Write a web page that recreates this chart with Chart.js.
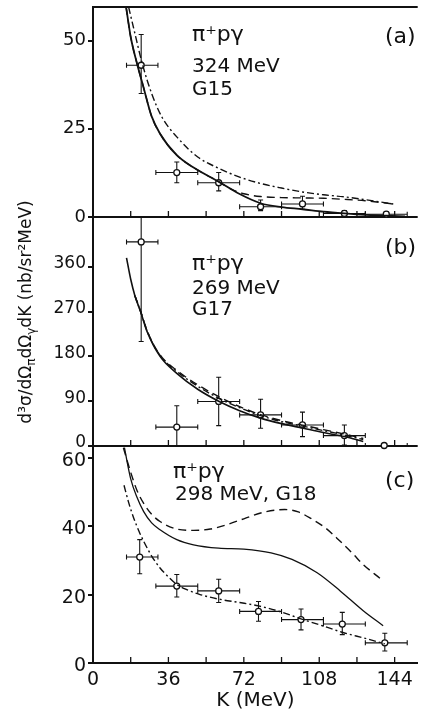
<!DOCTYPE html>
<html>
<head>
<meta charset="utf-8">
<script src="https://cdn.jsdelivr.net/npm/chart.js@4.4.1/dist/chart.umd.min.js"></script>
<style>
    html, body { margin: 0; padding: 0; background: #fff; }
    canvas { display: block; }
</style>
</head>
<body>
<canvas id="spectra" width="423" height="715"></canvas>
<script>
// photon energy axis (MeV)
const xTicks = [0, 18, 36, 54, 72, 90, 108, 126, 144];
const xLabels = [0, 36, 72, 108, 144];
const kBinLo = [16, 30, 50, 70, 90, 110, 130];
const kBinHi = [31, 50, 70, 90, 110, 130, 150];

// (a) 324 MeV, G15
const aTicks = [0, 25, 50];
const aK = [23, 40, 60, 80, 100, 120, 140];
const aY = [43, 12.6, 9.7, 2.9, 3.7, 1.0, 0.8];
const aLo = [35, 9.7, 7.4, 1.8, 2.2, 0.2, 0.1];
const aHi = [51.7, 15.6, 12.6, 4.8, 5.9, 1.8, 1.5];
const aSolidK = [15.8, 18, 21, 24, 28, 32, 40, 48, 60, 70, 80, 90, 100, 110, 120, 130, 140, 149];
const aSolid = [59.5, 51, 43.5, 37, 28.5, 23.6, 17.5, 14, 10, 6.5, 3.9, 2.8, 2.2, 1.5, 1.0, 0.6, 0.4, 0.2];
const aDashK = [15.8, 18, 21, 24, 28, 32, 40, 48, 60, 66, 72, 80, 90, 100, 110, 120, 130, 143];
const aDash = [59.5, 51, 43.5, 37, 28.5, 23.6, 17.5, 14, 10, 7.9, 6.6, 5.8, 5.5, 5.4, 5.3, 5.0, 4.6, 3.7];
const aDotK = [17, 20, 23.5, 28, 33, 40, 50, 60, 70, 80, 90, 100, 110, 120, 130, 140, 144];
const aDot = [59.5, 52, 43.5, 35, 28.2, 22.7, 17, 13.8, 11.3, 9.5, 8.2, 7.1, 6.3, 5.7, 4.9, 4.0, 3.6];

// (b) 269 MeV, G17
const bTicks = [0, 90, 180, 270, 360];
const bK = [23, 40, 60, 80, 100, 120, 139];
const bY = [410, 38, 89.5, 62.5, 42.3, 20.9, 1];
const bLo = [210, -5, 41, 35.7, 18.9, 2, -2];
const bHi = [610, 81, 138, 94, 68, 42.3, 4];
const bSolidK = [16, 18, 20, 22.7, 26, 32, 40, 50, 60, 70, 80, 90, 100, 110, 120, 129];
const bSolid = [378, 335, 302, 270, 228, 180, 146, 114, 90, 71, 56, 45, 36, 27, 19, 9];
const bDashK = [20, 22.7, 26, 32, 40, 50, 60, 70, 80, 90, 100, 110, 120, 129];
const bDash = [302, 271, 230, 183, 152, 123, 99, 79, 63, 51, 42, 33, 24, 15];
const bDotK = [20, 22.7, 26, 32, 40, 50, 60, 70, 80, 90, 100, 110, 120, 129];
const bDot = [302, 270, 229, 182, 150, 120, 96, 77, 61, 49, 40, 31, 22, 13];

// (c) 298 MeV, G18
const cTicks = [0, 20, 40, 60];
const cK = [22.3, 40, 60, 79, 99.3, 119, 139.3];
const cY = [31.0, 22.5, 21.1, 15.1, 12.7, 11.4, 5.9];
const cLo = [26.1, 19.3, 17.7, 12.2, 9.7, 8.3, 3.5];
const cHi = [36.1, 25.9, 24.5, 18, 15.8, 14.8, 8.7];
const cSolidK = [15, 18, 21, 24.2, 28, 32, 40, 48, 60, 72, 85, 95, 107, 118, 129, 138.5];
const cSolid = [63, 53.9, 48.5, 44.3, 41, 39, 36.1, 34.6, 33.6, 33.3, 32.2, 30.3, 26.4, 21.1, 15.3, 10.9];
const cDashK = [14.5, 18, 21, 24.2, 28, 32, 40, 48, 56, 64, 72, 82, 91.5, 98, 104, 111, 118, 124, 129, 137];
const cDash = [63, 55.8, 50.5, 46.7, 43.5, 41.4, 39.2, 38.8, 39.2, 40.5, 42.2, 44.2, 44.9, 44.2, 42.3, 39.5, 35.6, 32, 28.8, 24.8];
const cDotK = [14.8, 17, 19.5, 22, 24.2, 28, 32, 36, 40, 45, 50.8, 60, 70, 79, 90, 99.3, 110, 118.9, 130, 139.3];
const cDot = [52, 47, 42.3, 38.5, 35.6, 31.3, 27.8, 25.2, 23, 21.4, 20.1, 18.7, 17.7, 16.7, 14.9, 12.9, 10.8, 9, 7.2, 5.6];

const notes = [['π⁺pγ', '324 MeV', 'G15'], ['π⁺pγ', '269 MeV', 'G17'], ['π⁺pγ', '298 MeV, G18']];
const tags = ['(a)', '(b)', '(c)'];

const FONT = "'DejaVu Sans', sans-serif";
const INK = '#111';

const panels = [
    { axis: 'ya', k: aK, y: aY, lo: aLo, hi: aHi, lines: [[28, 99], [60, 99], [83, 99]], tagY: 30 },
    { axis: 'yb', k: bK, y: bY, lo: bLo, hi: bHi, lines: [[47, 99], [72, 99], [93, 99]], tagY: 31 },
    { axis: 'yc', k: cK, y: cY, lo: cLo, hi: cHi, lines: [[26, 80], [49, 82]], tagY: 35 }
];

const pts = (ks, vs) => ks.map((k, i) => ({ x: k, y: vs[i] }));

function curve(ks, vs, axis, dash, width) {
    return {
        type: 'line',
        data: pts(ks, vs),
        yAxisID: axis,
        borderColor: INK,
        borderWidth: width || 1.4,
        borderDash: dash || [],
        pointRadius: 0,
        fill: false,
        cubicInterpolationMode: 'monotone'
    };
}

function marks(ks, vs, axis) {
    return {
        type: 'scatter',
        data: pts(ks, vs),
        yAxisID: axis,
        pointRadius: 3,
        pointBackgroundColor: '#fff',
        pointBorderColor: INK,
        pointBorderWidth: 1.3,
        clip: 6
    };
}

const DASH = [8, 5];
const DASHDOT = [7, 3, 2, 3];

function yScale(ticks, max, size, shift) {
    return {
        type: 'linear',
        position: 'left',
        stack: 'panels',
        min: 0,
        max: max,
        afterBuildTicks: function (s) { s.ticks = ticks.map(v => ({ value: v })); },
        afterFit: function (s) { s.width = 93; s.paddingTop = 0; s.paddingBottom = 0; },
        border: { display: true, color: INK, width: 2 },
        grid: {
            color: c => (c.tick && c.tick.value === 0 ? INK : 'rgba(0,0,0,0)'),
            lineWidth: 2,
            tickColor: INK,
            tickLength: 5
        },
        ticks: { color: INK, padding: 2, labelOffset: shift, font: { family: FONT, size: size } }
    };
}

const decor = {
    id: 'decor',
    beforeDatasetsDraw(chart) {
        const ctx = chart.ctx;
        const x = chart.scales.x;
        const area = chart.chartArea;
        panels.forEach(p => {
            const y = chart.scales[p.axis];
            ctx.save();
            ctx.beginPath();
            ctx.rect(area.left, y.top, area.right - area.left, y.bottom - y.top);
            ctx.clip();
            ctx.strokeStyle = INK;
            ctx.lineWidth = 1.1;
            p.k.forEach((k, i) => {
                const px = x.getPixelForValue(k);
                const py = y.getPixelForValue(p.y[i]);
                const x0 = x.getPixelForValue(kBinLo[i]);
                const x1 = x.getPixelForValue(kBinHi[i]);
                const y0 = y.getPixelForValue(p.lo[i]);
                const y1 = y.getPixelForValue(p.hi[i]);
                ctx.beginPath();
                ctx.moveTo(x0, py); ctx.lineTo(x1, py);
                ctx.moveTo(x0, py - 2.5); ctx.lineTo(x0, py + 2.5);
                ctx.moveTo(x1, py - 2.5); ctx.lineTo(x1, py + 2.5);
                ctx.moveTo(px, y0); ctx.lineTo(px, y1);
                ctx.moveTo(px - 2.5, y0); ctx.lineTo(px + 2.5, y0);
                ctx.moveTo(px - 2.5, y1); ctx.lineTo(px + 2.5, y1);
                ctx.stroke();
            });
            ctx.restore();
        });
    },
    afterDraw(chart) {
        const ctx = chart.ctx;
        const x = chart.scales.x;
        const area = chart.chartArea;
        ctx.save();
        ctx.strokeStyle = INK;
        ctx.lineWidth = 2;
        ctx.beginPath();
        ctx.moveTo(area.left, area.top);
        ctx.lineTo(area.right, area.top);
        ctx.stroke();

        // inward K ticks along the bottom of every panel
        ctx.lineWidth = 1.3;
        panels.forEach(p => {
            const y = chart.scales[p.axis];
            ctx.beginPath();
            xTicks.forEach(v => {
                const px = x.getPixelForValue(v);
                ctx.moveTo(px, y.bottom);
                ctx.lineTo(px, y.bottom - 6);
            });
            ctx.stroke();
        });

        // panel captions
        ctx.fillStyle = INK;
        ctx.textBaseline = 'middle';
        panels.forEach((p, i) => {
            const y = chart.scales[p.axis];
            ctx.textAlign = 'left';
            notes[i].forEach((t, j) => {
                ctx.font = (j === 0 ? '22px ' : '20px ') + FONT;
                ctx.fillText(t, area.left + p.lines[j][1], y.top + p.lines[j][0]);
            });
            ctx.font = '22px ' + FONT;
            ctx.fillText(tags[i], area.left + 292, y.top + p.tagY);
        });

        // shared y title with subscripts
        const runs = [
            { t: 'd³σ/dΩ', sub: false },
            { t: 'π', sub: true },
            { t: 'dΩ', sub: false },
            { t: 'γ', sub: true },
            { t: 'dK (nb/sr²MeV)', sub: false }
        ];
        const big = '17px ' + FONT;
        const small = '12px ' + FONT;
        let total = 0;
        runs.forEach(r => { ctx.font = r.sub ? small : big; total += ctx.measureText(r.t).width; });
        ctx.translate(27, 312);
        ctx.rotate(-Math.PI / 2);
        let cx = -total / 2;
        runs.forEach(r => {
            ctx.font = r.sub ? small : big;
            ctx.fillText(r.t, cx, r.sub ? 5 : 0);
            cx += ctx.measureText(r.t).width;
        });
        ctx.restore();
    }
};

new Chart(document.getElementById('spectra'), {
    type: 'scatter',
    data: {
        datasets: [
            curve(aSolidK, aSolid, 'ya', null, 1.8),
            curve(aDashK, aDash, 'ya', DASH),
            curve(aDotK, aDot, 'ya', DASHDOT),
            marks(aK, aY, 'ya'),
            curve(bSolidK, bSolid, 'yb', null, 1.6),
            curve(bDashK, bDash, 'yb', DASH),
            curve(bDotK, bDot, 'yb', DASHDOT),
            marks(bK, bY, 'yb'),
            curve(cSolidK, cSolid, 'yc', null, 1.3),
            curve(cDashK, cDash, 'yc', DASH),
            curve(cDotK, cDot, 'yc', DASHDOT),
            marks(cK, cY, 'yc')
        ]
    },
    options: {
        responsive: false,
        animation: false,
        layout: { padding: { top: 7, left: 0, right: 0, bottom: 0 } },
        plugins: { legend: { display: false }, tooltip: { enabled: false } },
        scales: {
            x: {
                type: 'linear',
                min: 0,
                max: 155,
                afterBuildTicks: function (s) { s.ticks = xTicks.map(v => ({ value: v })); },
                afterFit: function (s) { s.height = 52; s.paddingLeft = 0; s.paddingRight = 0; },
                border: { display: true, color: INK, width: 2 },
                grid: { display: false, drawTicks: false },
                ticks: {
                    color: INK,
                    padding: 6,
                    maxRotation: 0,
                    autoSkip: false,
                    font: { family: FONT, size: 19 },
                    callback: v => (xLabels.includes(v) ? String(v) : '')
                },
                title: {
                    display: true,
                    text: 'K (MeV)',
                    color: INK,
                    padding: { top: 0, bottom: 2 },
                    font: { family: FONT, size: 20 }
                }
            },
            yc: Object.assign(yScale(cTicks, 63.5, 19, 3), { stackWeight: 217 }),
            yb: Object.assign(yScale(bTicks, 460, 17, -3), { stackWeight: 229 }),
            ya: Object.assign(yScale(aTicks, 59.5, 18, 0), { stackWeight: 210 })
        }
    },
    plugins: [decor]
});
</script>
</body>
</html>
